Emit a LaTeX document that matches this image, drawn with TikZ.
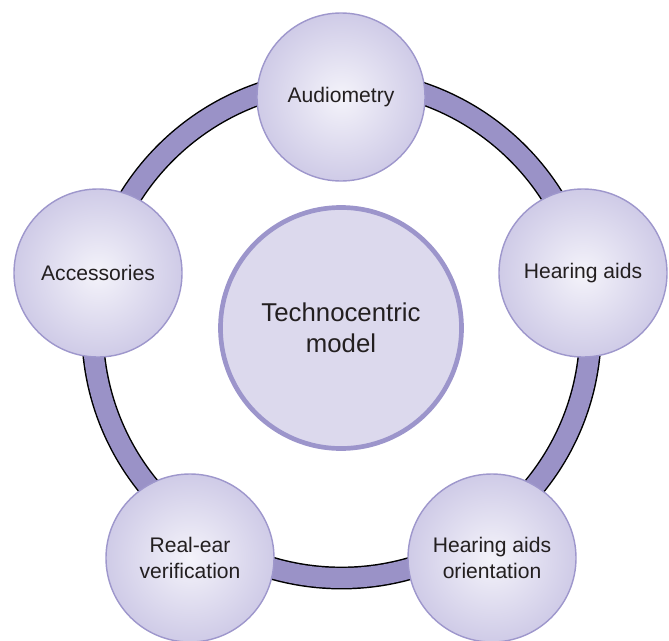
\documentclass[tikz,border=0pt]{standalone}
\usepackage{fontspec}
\setmainfont{Liberation Sans}
\definecolor{ringc}{RGB}{154,146,199}
\definecolor{satb}{RGB}{158,151,204}
\definecolor{satin}{RGB}{244,243,250}
\definecolor{satout}{RGB}{207,203,231}
\definecolor{hubb}{RGB}{156,149,203}
\definecolor{hubf}{RGB}{220,217,237}
\definecolor{txt}{RGB}{35,31,32}
\begin{document}
\begin{tikzpicture}[x=0.03cm,y=-0.03cm,
  sat/.style={circle, draw=satb, line width=1.2pt, minimum size=5.04cm, inner sep=0pt,
    inner color=satin, outer color=satout, align=center,
    font=\fontsize{18}{21.5}\selectfont, text=txt},
  hub/.style={circle, draw=hubb, line width=4pt, fill=hubf, minimum size=7.23cm, inner sep=0pt,
    align=center, font=\fontsize{22}{26.4}\selectfont, text=txt},
  ringout/.style={draw=black, line width=19.5pt},
  ringin/.style={draw=ringc, line width=17pt}]
\useasboundingbox (0,0) rectangle (669,640);
\coordinate (o) at (341.5,329);
\draw[ringout] (o) circle[radius=7.47cm];
\draw[ringin] (o) circle[radius=7.47cm];
\node[hub] (hub) at (341,328) {Technocentric\\model};
\node[sat] (aud) at (341,97) {Audiometry};
\node[sat] (ha) at (583,273) {Hearing aids};
\node[sat] (acc) at (98,273) {Accessories};
\node[sat] (hao) at (492,558) {Hearing aids\\orientation};
\node[sat] (rev) at (190,558) {Real-ear\\verification};
\end{tikzpicture}
\end{document}
